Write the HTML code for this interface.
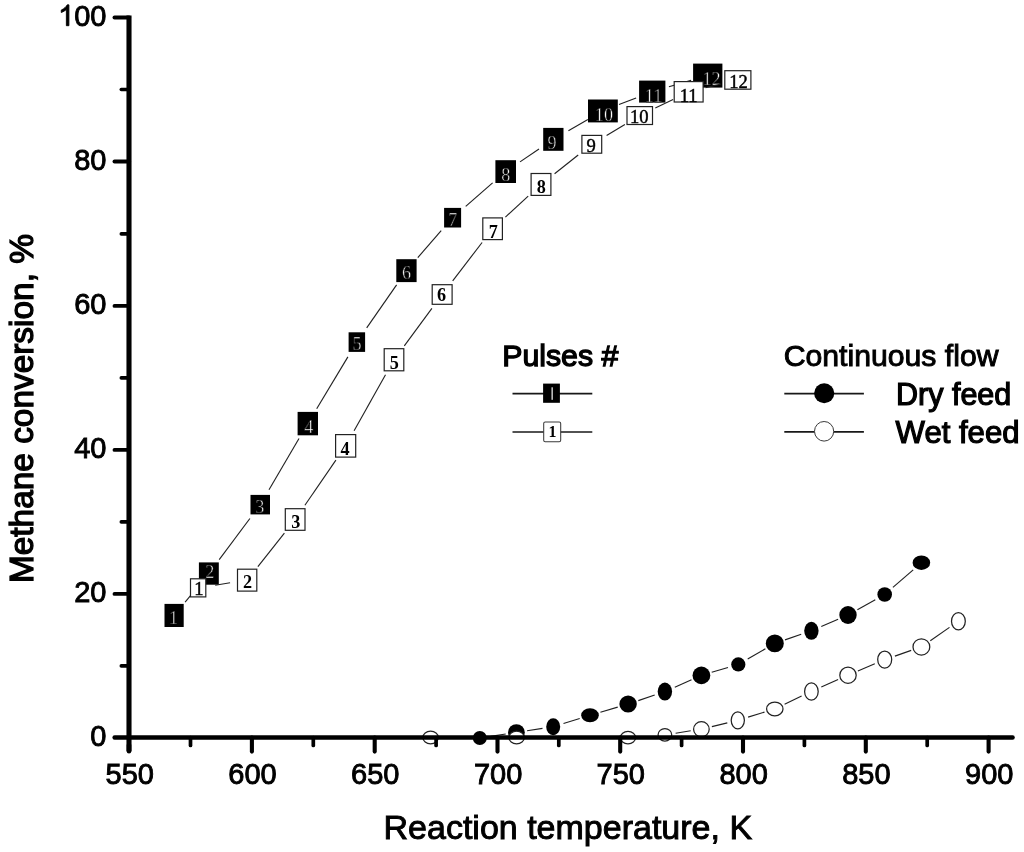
<!DOCTYPE html>
<html><head><meta charset="utf-8"><title>Methane conversion vs reaction temperature</title>
<style>
html,body{margin:0;padding:0;background:#fff;}
body{width:1024px;height:852px;position:relative;overflow:hidden;font-family:"Liberation Sans",sans-serif;}
svg text{font-family:"Liberation Sans",sans-serif;fill:#000;}
.tl{font-size:29px;stroke:#000;stroke-width:0.9px;}
.ti{font-size:34px;stroke:#000;stroke-width:0.95px;}
.ti2{font-size:33.4px;stroke:#000;stroke-width:1.3px;}
.lg{font-size:30px;stroke:#000;stroke-width:1.2px;}
svg text.fn{font-family:"Liberation Serif",serif;font-size:18.2px;fill:#fff;text-anchor:middle;stroke:#000;stroke-width:0.55px;}
svg text.on{font-family:"Liberation Serif",serif;font-size:18.6px;fill:#000;text-anchor:middle;stroke:#000;stroke-width:0.45px;}
svg text.ob{font-family:"Liberation Serif",serif;font-size:18.2px;font-weight:bold;fill:#000;text-anchor:middle;}
</style></head><body>
<svg width="1024" height="852" viewBox="0 0 1024 852" style="position:absolute;left:0;top:0;will-change:transform">
<rect width="1024" height="852" fill="#fff"/>
<line x1="185.1" y1="602.1" x2="197.8" y2="586.9" stroke="#202020" stroke-width="1.12" fill="none"/>
<line x1="219.2" y1="559.7" x2="249.9" y2="518.5" stroke="#202020" stroke-width="1.12" fill="none"/>
<line x1="269.0" y1="489.7" x2="299.0" y2="438.5" stroke="#202020" stroke-width="1.12" fill="none"/>
<line x1="316.7" y1="408.8" x2="347.9" y2="356.9" stroke="#202020" stroke-width="1.12" fill="none"/>
<line x1="366.7" y1="327.9" x2="396.6" y2="284.9" stroke="#202020" stroke-width="1.12" fill="none"/>
<line x1="417.8" y1="257.6" x2="441.2" y2="230.7" stroke="#202020" stroke-width="1.12" fill="none"/>
<line x1="465.7" y1="206.4" x2="492.6" y2="182.9" stroke="#202020" stroke-width="1.12" fill="none"/>
<line x1="520.0" y1="161.9" x2="539.0" y2="149.0" stroke="#202020" stroke-width="1.12" fill="none"/>
<line x1="568.4" y1="130.7" x2="587.9" y2="119.6" stroke="#202020" stroke-width="1.12" fill="none"/>
<line x1="619.0" y1="104.6" x2="636.1" y2="97.9" stroke="#202020" stroke-width="1.12" fill="none"/>
<line x1="668.9" y1="86.8" x2="691.1" y2="80.4" stroke="#202020" stroke-width="1.12" fill="none"/>
<rect x="164.5" y="603.9" width="19.2" height="23.1" fill="#000"/>
<text x="173.5" y="624.2" class="fn">1</text>
<rect x="198.9" y="562.4" width="19.9" height="22.3" fill="#000"/>
<text x="209.9" y="578.4" class="fn">2</text>
<rect x="250.5" y="494.9" width="19.5" height="19.5" fill="#000"/>
<text x="259.8" y="512.9" class="fn">3</text>
<rect x="297.6" y="411.9" width="20.4" height="23.4" fill="#000"/>
<text x="308.7" y="432.5" class="fn">4</text>
<rect x="348.6" y="332.3" width="16.5" height="19.6" fill="#000"/>
<text x="357.0" y="350.4" class="fn">5</text>
<rect x="396.3" y="259.2" width="20.3" height="22.9" fill="#000"/>
<text x="406.6" y="278.6" class="fn">6</text>
<rect x="444.1" y="207.9" width="17.0" height="19.6" fill="#000"/>
<text x="452.9" y="225.9" class="fn">7</text>
<rect x="495.4" y="160.2" width="20.6" height="22.8" fill="#000"/>
<text x="505.8" y="180.7" class="fn">8</text>
<rect x="543.2" y="127.9" width="20.3" height="22.9" fill="#000"/>
<text x="552.1" y="149.3" class="fn">9</text>
<rect x="588.0" y="99.5" width="29.8" height="22.9" fill="#000"/>
<text x="603.9" y="121.4" class="fn">10</text>
<rect x="639.1" y="80.6" width="26.3" height="22.0" fill="#000"/>
<text x="653.5" y="101.9" class="fn">11</text>
<rect x="693.1" y="63.6" width="29.3" height="24.0" fill="#000"/>
<text x="711.6" y="84.9" class="fn">12</text>
<line x1="490.5" y1="736.4" x2="505.7" y2="734.0" stroke="#202020" stroke-width="1.12" fill="none"/>
<line x1="527.1" y1="730.7" x2="542.5" y2="728.4" stroke="#202020" stroke-width="1.12" fill="none"/>
<line x1="563.5" y1="723.5" x2="579.7" y2="718.5" stroke="#202020" stroke-width="1.12" fill="none"/>
<line x1="600.4" y1="712.2" x2="617.7" y2="707.1" stroke="#202020" stroke-width="1.12" fill="none"/>
<line x1="638.3" y1="700.6" x2="654.7" y2="695.0" stroke="#202020" stroke-width="1.12" fill="none"/>
<line x1="674.8" y1="687.2" x2="691.5" y2="679.8" stroke="#202020" stroke-width="1.12" fill="none"/>
<line x1="711.7" y1="672.3" x2="728.0" y2="667.5" stroke="#202020" stroke-width="1.12" fill="none"/>
<line x1="747.7" y1="659.0" x2="765.4" y2="648.8" stroke="#202020" stroke-width="1.12" fill="none"/>
<line x1="785.0" y1="639.9" x2="801.2" y2="634.3" stroke="#202020" stroke-width="1.12" fill="none"/>
<line x1="821.3" y1="626.5" x2="838.1" y2="619.3" stroke="#202020" stroke-width="1.12" fill="none"/>
<line x1="857.4" y1="609.7" x2="875.3" y2="599.8" stroke="#202020" stroke-width="1.12" fill="none"/>
<line x1="892.9" y1="587.4" x2="913.2" y2="569.8" stroke="#202020" stroke-width="1.12" fill="none"/>
<ellipse cx="479.8" cy="738.0" rx="7.0" ry="7.0" fill="#000"/>
<ellipse cx="516.4" cy="732.4" rx="8.4" ry="8.2" fill="#000"/>
<ellipse cx="553.2" cy="726.7" rx="7.0" ry="8.5" fill="#000"/>
<ellipse cx="590.0" cy="715.3" rx="8.8" ry="7.0" fill="#000"/>
<ellipse cx="628.1" cy="704.0" rx="8.7" ry="8.6" fill="#000"/>
<ellipse cx="664.9" cy="691.6" rx="7.2" ry="9.0" fill="#000"/>
<ellipse cx="701.4" cy="675.4" rx="8.9" ry="8.8" fill="#000"/>
<ellipse cx="738.3" cy="664.4" rx="7.1" ry="7.1" fill="#000"/>
<ellipse cx="774.8" cy="643.4" rx="9.0" ry="8.9" fill="#000"/>
<ellipse cx="811.4" cy="630.8" rx="7.2" ry="9.0" fill="#000"/>
<ellipse cx="848.0" cy="615.0" rx="8.7" ry="8.9" fill="#000"/>
<ellipse cx="884.7" cy="594.5" rx="7.3" ry="7.3" fill="#000"/>
<ellipse cx="921.4" cy="562.7" rx="8.8" ry="7.3" fill="#000"/>
<line x1="215.2" y1="585.2" x2="230.1" y2="582.8" stroke="#202020" stroke-width="1.12" fill="none"/>
<line x1="257.9" y1="566.6" x2="284.4" y2="533.1" stroke="#202020" stroke-width="1.12" fill="none"/>
<line x1="304.9" y1="505.2" x2="335.9" y2="460.1" stroke="#202020" stroke-width="1.12" fill="none"/>
<line x1="354.1" y1="430.8" x2="385.5" y2="374.8" stroke="#202020" stroke-width="1.12" fill="none"/>
<line x1="404.3" y1="345.8" x2="431.9" y2="308.4" stroke="#202020" stroke-width="1.12" fill="none"/>
<line x1="452.7" y1="280.8" x2="482.1" y2="242.5" stroke="#202020" stroke-width="1.12" fill="none"/>
<line x1="505.4" y1="217.1" x2="528.2" y2="196.1" stroke="#202020" stroke-width="1.12" fill="none"/>
<line x1="554.6" y1="173.7" x2="578.2" y2="155.0" stroke="#202020" stroke-width="1.12" fill="none"/>
<line x1="606.6" y1="135.4" x2="624.9" y2="124.4" stroke="#202020" stroke-width="1.12" fill="none"/>
<line x1="655.3" y1="108.0" x2="673.1" y2="99.4" stroke="#202020" stroke-width="1.12" fill="none"/>
<line x1="705.5" y1="87.7" x2="721.0" y2="84.0" stroke="#202020" stroke-width="1.12" fill="none"/>
<rect x="190.5" y="578.8" width="15.3" height="18.1" fill="#fff" stroke="#222" stroke-width="1.2"/>
<text x="198.9" y="594.8" class="on">1</text>
<rect x="237.5" y="569.2" width="19.3" height="21.9" fill="#fff" stroke="#222" stroke-width="1.2"/>
<text x="247.6" y="588.4" class="ob">2</text>
<rect x="285.3" y="508.7" width="19.7" height="21.6" fill="#fff" stroke="#222" stroke-width="1.2"/>
<text x="295.9" y="527.8" class="ob">3</text>
<rect x="335.6" y="434.6" width="20.1" height="22.5" fill="#fff" stroke="#222" stroke-width="1.2"/>
<text x="345.0" y="454.7" class="ob">4</text>
<rect x="384.2" y="348.7" width="19.6" height="22.1" fill="#fff" stroke="#222" stroke-width="1.2"/>
<text x="394.4" y="368.7" class="ob">5</text>
<rect x="432.2" y="284.7" width="19.9" height="19.6" fill="#fff" stroke="#222" stroke-width="1.2"/>
<text x="441.5" y="301.2" class="ob">6</text>
<rect x="482.8" y="217.9" width="19.6" height="21.7" fill="#fff" stroke="#222" stroke-width="1.2"/>
<text x="493.2" y="237.6" class="ob">7</text>
<rect x="531.1" y="173.5" width="19.8" height="21.9" fill="#fff" stroke="#222" stroke-width="1.2"/>
<text x="541.3" y="192.8" class="ob">8</text>
<rect x="581.9" y="135.4" width="19.8" height="17.8" fill="#fff" stroke="#222" stroke-width="1.2"/>
<text x="591.2" y="151.8" class="on">9</text>
<rect x="627.0" y="106.6" width="25.5" height="17.9" fill="#fff" stroke="#222" stroke-width="1.2"/>
<text x="639.3" y="122.7" class="on">10</text>
<rect x="674.2" y="81.6" width="28.9" height="20.4" fill="#fff" stroke="#222" stroke-width="1.2"/>
<text x="688.7" y="101.9" class="on">11</text>
<rect x="724.8" y="70.7" width="26.1" height="18.5" fill="#fff" stroke="#222" stroke-width="1.2"/>
<text x="738.5" y="88.3" class="on">12</text>
<line x1="675.6" y1="733.2" x2="690.7" y2="730.8" stroke="#202020" stroke-width="1.12" fill="none"/>
<line x1="711.9" y1="726.6" x2="727.3" y2="722.9" stroke="#202020" stroke-width="1.12" fill="none"/>
<line x1="748.1" y1="717.1" x2="764.5" y2="712.1" stroke="#202020" stroke-width="1.12" fill="none"/>
<line x1="784.6" y1="704.3" x2="801.6" y2="696.1" stroke="#202020" stroke-width="1.12" fill="none"/>
<line x1="821.3" y1="687.1" x2="838.1" y2="679.6" stroke="#202020" stroke-width="1.12" fill="none"/>
<line x1="857.9" y1="671.0" x2="874.8" y2="663.8" stroke="#202020" stroke-width="1.12" fill="none"/>
<line x1="894.9" y1="656.1" x2="911.2" y2="650.4" stroke="#202020" stroke-width="1.12" fill="none"/>
<line x1="930.3" y1="640.8" x2="949.5" y2="627.4" stroke="#202020" stroke-width="1.12" fill="none"/>
<ellipse cx="430.6" cy="737.5" rx="7.7" ry="6.3" fill="#fff" stroke="#222" stroke-width="1.25"/>
<ellipse cx="516.6" cy="737.5" rx="7.7" ry="6.3" fill="#fff" stroke="#222" stroke-width="1.25"/>
<ellipse cx="628.0" cy="737.6" rx="7.6" ry="6.2" fill="#fff" stroke="#222" stroke-width="1.25"/>
<ellipse cx="664.9" cy="734.8" rx="6.8" ry="6.3" fill="#fff" stroke="#222" stroke-width="1.25"/>
<ellipse cx="701.4" cy="729.2" rx="7.8" ry="7.6" fill="#fff" stroke="#222" stroke-width="1.25"/>
<ellipse cx="737.8" cy="720.3" rx="6.6" ry="8.5" fill="#fff" stroke="#222" stroke-width="1.25"/>
<ellipse cx="774.8" cy="708.9" rx="8.2" ry="6.9" fill="#fff" stroke="#222" stroke-width="1.25"/>
<ellipse cx="811.4" cy="691.5" rx="6.8" ry="8.6" fill="#fff" stroke="#222" stroke-width="1.25"/>
<ellipse cx="848.0" cy="675.2" rx="8.2" ry="8.1" fill="#fff" stroke="#222" stroke-width="1.25"/>
<ellipse cx="884.7" cy="659.6" rx="7.0" ry="8.6" fill="#fff" stroke="#222" stroke-width="1.25"/>
<ellipse cx="921.4" cy="646.9" rx="8.4" ry="8.1" fill="#fff" stroke="#222" stroke-width="1.25"/>
<ellipse cx="958.4" cy="621.3" rx="6.9" ry="8.6" fill="#fff" stroke="#222" stroke-width="1.25"/>
<line x1="129.0" y1="15.6" x2="129.0" y2="751.3" stroke="#000" stroke-width="5.1"/>
<line x1="129.0" y1="745" x2="129.0" y2="751.3" stroke="#000" stroke-width="4.6" stroke-linecap="round"/>
<line x1="114.6" y1="737.5" x2="1012.6" y2="737.5" stroke="#000" stroke-width="4.4" stroke-linecap="round"/>
<line x1="121.3" y1="665.9" x2="129.1" y2="665.9" stroke="#000" stroke-width="3.6" stroke-linecap="round"/>
<line x1="114.5" y1="593.9" x2="129.1" y2="593.9" stroke="#000" stroke-width="3.9" stroke-linecap="round"/>
<line x1="121.3" y1="521.9" x2="129.1" y2="521.9" stroke="#000" stroke-width="3.6" stroke-linecap="round"/>
<line x1="114.5" y1="449.9" x2="129.1" y2="449.9" stroke="#000" stroke-width="3.9" stroke-linecap="round"/>
<line x1="121.3" y1="377.9" x2="129.1" y2="377.9" stroke="#000" stroke-width="3.6" stroke-linecap="round"/>
<line x1="114.5" y1="305.9" x2="129.1" y2="305.9" stroke="#000" stroke-width="3.9" stroke-linecap="round"/>
<line x1="121.3" y1="233.9" x2="129.1" y2="233.9" stroke="#000" stroke-width="3.6" stroke-linecap="round"/>
<line x1="114.5" y1="161.5" x2="129.1" y2="161.5" stroke="#000" stroke-width="3.9" stroke-linecap="round"/>
<line x1="121.3" y1="89.5" x2="129.1" y2="89.5" stroke="#000" stroke-width="3.6" stroke-linecap="round"/>
<line x1="114.5" y1="17.5" x2="129.1" y2="17.5" stroke="#000" stroke-width="3.9" stroke-linecap="round"/>
<line x1="190.5" y1="737.5" x2="190.5" y2="745.4" stroke="#000" stroke-width="3.7" stroke-linecap="round"/>
<line x1="251.9" y1="737.5" x2="251.9" y2="751.6" stroke="#000" stroke-width="4.1" stroke-linecap="round"/>
<line x1="313.3" y1="737.5" x2="313.3" y2="745.4" stroke="#000" stroke-width="3.7" stroke-linecap="round"/>
<line x1="374.7" y1="737.5" x2="374.7" y2="751.6" stroke="#000" stroke-width="4.1" stroke-linecap="round"/>
<line x1="436.1" y1="737.5" x2="436.1" y2="745.4" stroke="#000" stroke-width="3.7" stroke-linecap="round"/>
<line x1="497.5" y1="737.5" x2="497.5" y2="751.6" stroke="#000" stroke-width="4.1" stroke-linecap="round"/>
<line x1="558.8" y1="737.5" x2="558.8" y2="745.4" stroke="#000" stroke-width="3.7" stroke-linecap="round"/>
<line x1="620.2" y1="737.5" x2="620.2" y2="751.6" stroke="#000" stroke-width="4.1" stroke-linecap="round"/>
<line x1="681.6" y1="737.5" x2="681.6" y2="745.4" stroke="#000" stroke-width="3.7" stroke-linecap="round"/>
<line x1="743.0" y1="737.5" x2="743.0" y2="751.6" stroke="#000" stroke-width="4.1" stroke-linecap="round"/>
<line x1="804.4" y1="737.5" x2="804.4" y2="745.4" stroke="#000" stroke-width="3.7" stroke-linecap="round"/>
<line x1="865.8" y1="737.5" x2="865.8" y2="751.6" stroke="#000" stroke-width="4.1" stroke-linecap="round"/>
<line x1="927.2" y1="737.5" x2="927.2" y2="745.4" stroke="#000" stroke-width="3.7" stroke-linecap="round"/>
<line x1="988.6" y1="737.5" x2="988.6" y2="751.6" stroke="#000" stroke-width="4.1" stroke-linecap="round"/>
<text x="106.5" y="745.7" class="tl" text-anchor="end">0</text>
<text x="106.5" y="601.7" class="tl" text-anchor="end">20</text>
<text x="106.5" y="457.7" class="tl" text-anchor="end">40</text>
<text x="106.5" y="313.7" class="tl" text-anchor="end">60</text>
<text x="106.5" y="169.7" class="tl" text-anchor="end">80</text>
<path transform="translate(58.11,25.7) scale(0.01416,-0.01416)" d="M763 0H583V1147Q518 1085 412.5 1023Q307 961 223 930V1104Q374 1175 487 1276Q600 1377 647 1472H763Z" fill="#000" stroke="#000" stroke-width="62"/>
<text x="106.5" y="25.7" class="tl" text-anchor="end">00</text>
<text x="129.7" y="783.9" class="tl" text-anchor="middle">550</text>
<text x="252.5" y="783.9" class="tl" text-anchor="middle">600</text>
<text x="375.3" y="783.9" class="tl" text-anchor="middle">650</text>
<text x="498.1" y="783.9" class="tl" text-anchor="middle">700</text>
<text x="620.8" y="783.9" class="tl" text-anchor="middle">750</text>
<text x="743.6" y="783.9" class="tl" text-anchor="middle">800</text>
<text x="866.4" y="783.9" class="tl" text-anchor="middle">850</text>
<text x="989.2" y="783.9" class="tl" text-anchor="middle">900</text>
<text x="567.8" y="839.4" class="ti" text-anchor="middle">Reaction temperature, K</text>
<text transform="translate(33.0,408.6) rotate(-90)" class="ti2" text-anchor="middle">Methane conversion, %</text>
<text x="502.2" y="365.8" class="lg" style="font-size:30.3px;stroke-width:1.3px">Pulses #</text>
<text x="783.7" y="366.2" class="lg" style="font-size:30.2px;stroke-width:0.95px">Continuous flow</text>
<text x="896.0" y="404.5" class="lg" style="font-size:30.5px">Dry feed</text>
<text x="895.6" y="442.9" class="lg" style="font-size:31.1px">Wet feed</text>
<line x1="512.5" y1="393.7" x2="592.3" y2="393.7" stroke="#181818" stroke-width="1.7" fill="none"/>
<line x1="512.5" y1="432" x2="592.3" y2="432" stroke="#181818" stroke-width="1.7" fill="none"/>
<rect x="543.1" y="383.6" width="16.8" height="19.2" fill="#000"/>
<rect x="551.5" y="387.3" width="1.3" height="12.5" fill="#e6e6e6"/>
<rect x="543.7" y="422.0" width="17.0" height="19.8" rx="1.5" fill="#fff" stroke="#3a3a3a" stroke-width="1.05"/>
<text x="552.4" y="437.2" class="ob" style="font-size:16px">1</text>
<line x1="784.3" y1="393.6" x2="863.9" y2="393.6" stroke="#181818" stroke-width="1.7" fill="none"/>
<line x1="784.3" y1="431.9" x2="863.9" y2="431.9" stroke="#181818" stroke-width="1.7" fill="none"/>
<ellipse cx="824.2" cy="393.3" rx="10.1" ry="10" fill="#000"/>
<ellipse cx="824.1" cy="431.3" rx="9.6" ry="9.8" fill="#fff" stroke="#3a3a3a" stroke-width="1.0"/>
</svg>
</body></html>
